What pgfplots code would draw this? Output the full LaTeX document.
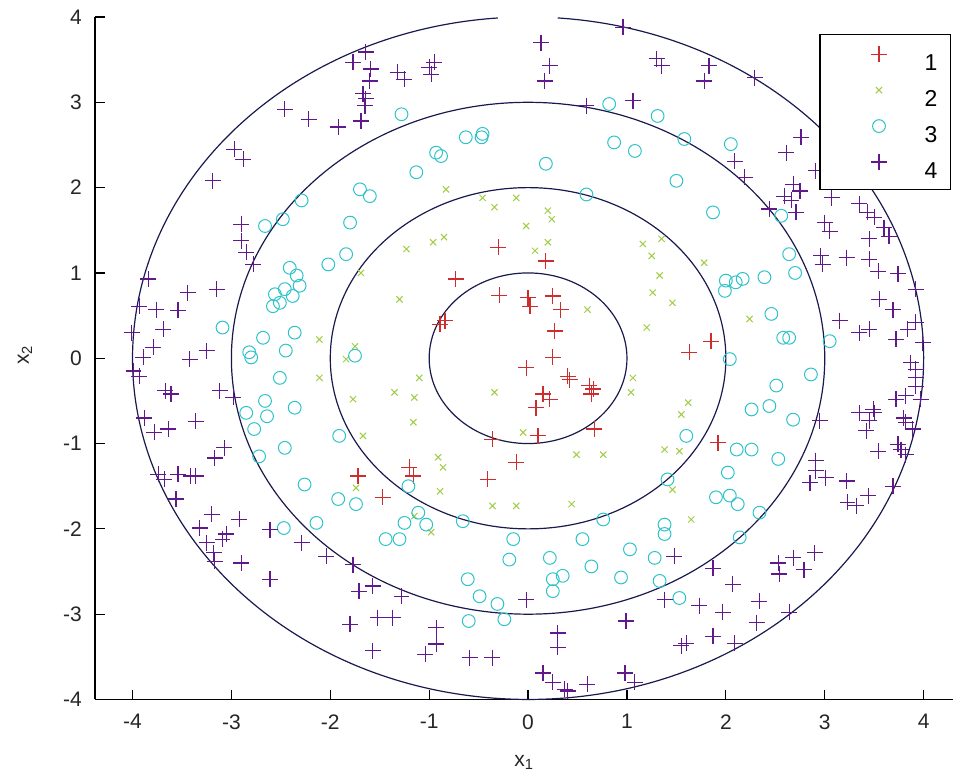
\documentclass[border=0pt]{standalone}
\usepackage{fontspec}
\setmainfont{Liberation Sans}
\usepackage{pgfplots}
\pgfplotsset{compat=1.18}
\definecolor{c1}{RGB}{205,45,45}
\definecolor{c2}{RGB}{160,205,70}
\definecolor{c3}{RGB}{45,195,200}
\definecolor{c4}{RGB}{95,25,140}
\definecolor{ring}{RGB}{25,25,80}
\pgfplotsset{my legend/.style={legend image code/.code={\path[draw=none,fill=none] (0pt,0pt) rectangle (41.6pt,8pt); \draw[mark repeat=2,mark phase=2,##1] plot coordinates {(0pt,4pt)(22.8pt,4pt)(45.6pt,4pt)};}}}
\begin{document}
\begin{tikzpicture}
\begin{axis}[
 scale only axis, width=429.5pt, height=341.5pt,
 xmin=-4.38, xmax=4.30, ymin=-4, ymax=4,
 axis x line*=bottom, axis y line*=left,
 tick align=inside, major tick length=5pt,
 xtick={-4,...,4}, ytick={-4,...,4},
 every tick/.style={black, line width=0.6pt},
 axis line style={line width=0.7pt},
 /pgf/number format/assume math mode=true,
 tick label style={font=\fontsize{10.5}{12}\selectfont, text=black!85},
 xticklabel style={yshift=-4pt},
 yticklabel style={xshift=-3pt},
 xlabel={x\textsubscript{1}}, ylabel={x\textsubscript{2}},
 label style={font=\fontsize{10.5}{12}\selectfont, text=black!85},
 xlabel style={at={(axis description cs:0.5,-0.0922)}, anchor=center},
 ylabel style={at={(axis description cs:-0.0815,0.505)}, anchor=center},
 clip=false,
 legend style={at={(0.9977,0.975)}, anchor=north east, draw=black, line width=0.6pt,
   font=\fontsize{11.5}{13}\selectfont, inner xsep=6.7pt, inner ysep=5.75pt,
   row sep=6pt, column sep=4pt, nodes={inner sep=0pt, text height=8pt, text depth=0pt}},
 legend cell align=left,
]
\draw[ring, line width=0.6pt] (axis cs:0,0) ellipse [x radius=1, y radius=1];
\draw[ring, line width=0.6pt] (axis cs:0,0) ellipse [x radius=2, y radius=2];
\draw[ring, line width=0.6pt] (axis cs:0,0) ellipse [x radius=3, y radius=3];
\draw[ring, line width=0.6pt] (axis cs:0.30,3.989) arc [start angle=85.7, delta angle=-351.3, x radius=4, y radius=4];

\addplot[only marks, mark=+, mark size=4pt, c1, mark options={line width=0.6pt}, my legend] coordinates {
(-0.30,1.30) (0.18,1.14) (-0.73,0.93) (-0.29,0.74) (0.00,0.71) (0.02,0.61) (0.25,0.73) (0.33,0.57)
(0.27,0.32) (0.25,0.01) (-0.02,-0.11) (0.40,-0.21) (0.62,-0.32) (-0.89,0.40) (-0.84,0.44) (1.85,0.20)
(1.63,0.07) (-1.72,-1.38) (-1.47,-1.63) (0.15,-0.42) (0.22,-0.48) (0.08,-0.58) (0.66,-0.36) (0.64,-0.42)
(0.42,-0.25) (-0.36,-0.95) (0.10,-0.91) (0.67,-0.83) (-0.12,-1.22) (-0.41,-1.42) (-1.20,-1.28) (-1.16,-1.38)
(1.92,-0.99)
};
\addlegendentry{1}
\addplot[only marks, mark=x, mark size=2.2pt, c2, mark options={line width=0.5pt}, my legend] coordinates {
(-2.11,0.22) (-1.75,0.14) (-1.84,-0.01) (-2.11,-0.23) (-1.69,1.00) (-0.83,1.98) (-0.46,1.88) (-0.12,1.88)
(-0.34,1.77) (0.20,1.73) (0.24,1.63) (-0.02,1.55) (-0.96,1.36) (-0.85,1.42) (-1.23,1.28) (0.07,1.26)
(0.20,1.36) (1.16,1.34) (1.35,1.40) (1.25,1.20) (1.33,0.97) (1.26,0.77) (0.60,0.57) (1.20,0.36)
(-1.30,0.69) (-1.10,-0.23) (1.06,-0.23) (1.78,1.12) (1.46,0.65) (2.24,0.46) (-1.77,-0.48) (-1.67,-0.91)
(-1.74,-1.52) (-1.35,-0.40) (-1.15,-0.46) (-1.16,-0.75) (-0.34,-0.40) (1.04,-0.40) (-0.05,-0.87) (0.49,-1.13)
(0.76,-1.13) (1.38,-1.07) (-0.91,-1.16) (-0.86,-1.28) (-0.89,-1.56) (-0.36,-1.73) (-0.12,-1.73) (0.44,-1.71)
(-1.15,-1.85) (-0.98,-2.04) (1.62,-0.52) (1.55,-0.66) (1.53,-1.09) (1.46,-1.54) (1.65,-1.89)
};
\addlegendentry{2}
\addplot[only marks, mark=o, mark size=3.2pt, c3, mark options={line width=0.5pt}, my legend] coordinates {
(-1.70,1.98) (-1.60,1.90) (-2.29,1.85) (-2.48,1.63) (-2.66,1.55) (-1.80,1.59) (-1.84,1.22) (-2.02,1.10)
(-2.41,1.06) (-2.34,0.97) (-2.31,0.85) (-2.46,0.81) (-2.56,0.75) (-2.51,0.65) (-2.58,0.61) (-2.38,0.73)
(-3.09,0.36) (-2.68,0.24) (-2.36,0.30) (-2.82,0.07) (-2.80,0.01) (-2.45,0.09) (-1.75,0.03) (-2.51,-0.23)
(-1.28,2.86) (0.82,2.98) (1.31,2.84) (-0.63,2.59) (-0.47,2.59) (-0.46,2.63) (-0.93,2.41) (-0.88,2.37)
(-1.13,2.18) (0.18,2.28) (0.87,2.53) (1.08,2.43) (0.59,1.92)
(1.58,2.57) (2.05,2.51) (1.50,2.08) (1.87,1.71) (2.56,1.67) (2.64,1.22) (2.70,1.00) (2.00,0.91)
(2.17,0.93) (2.10,0.89) (1.99,0.79) (2.39,0.95) (2.46,0.52) (2.58,0.24) (2.64,0.24) (3.05,0.20)
(2.04,-0.01) (2.86,-0.19) (2.51,-0.32)
(-2.66,-0.50) (-2.85,-0.64) (-2.64,-0.68) (-2.36,-0.58) (-2.77,-0.83) (-1.91,-0.91) (-2.46,-1.05) (-2.72,-1.15)
(-2.26,-1.48) (-1.92,-1.65) (-1.74,-1.71) (-2.14,-1.93) (-2.47,-1.99) (-1.44,-2.12)
(-1.21,-1.50) (-1.11,-1.81) (-1.25,-1.93) (-1.03,-1.95) (-1.30,-2.12) (-0.66,-1.91) (-0.15,-2.12) (-0.19,-2.36)
(0.22,-2.34) (0.25,-2.59) (0.35,-2.55) (0.25,-2.73) (0.55,-2.12) (0.64,-2.44) (0.76,-1.89) (1.03,-2.24)
(1.28,-2.34) (0.94,-2.57) (1.33,-2.61) (1.38,-1.95) (1.38,-2.06) (-0.61,-2.59) (-0.49,-2.79) (-0.31,-2.88)
(-0.24,-3.06) (-0.60,-3.08)
(2.44,-0.56) (2.26,-0.60) (2.68,-0.72) (1.60,-0.91) (2.11,-1.07) (2.26,-1.07) (2.53,-1.18) (2.02,-1.34)
(1.90,-1.63) (2.04,-1.61) (2.12,-1.71) (2.34,-1.81) (1.41,-1.42) (2.14,-2.10) (1.53,-2.81)
};
\addlegendentry{3}
\addplot[only marks, mark=+, mark size=4pt, c4, mark options={line width=0.6pt}, my legend] coordinates {
(-1.64,3.59) (-1.77,3.47) (-1.59,3.39) (-1.60,3.25) (-1.67,3.10) (-1.64,3.04) (-1.65,2.96) (-1.69,2.78)
(-1.92,2.71) (-2.22,2.80) (-2.46,2.92) (-2.97,2.45) (-2.88,2.33) (-3.19,2.08) (-2.90,1.57) (-2.90,1.38)
(-2.85,1.24) (-2.78,1.10) (-3.84,0.93) (-3.44,0.77) (-3.15,0.81) (-3.93,0.61) (-3.76,0.57) (-3.54,0.56)
(-3.69,0.34) (-4.01,0.30) (-3.79,0.13) (-3.89,0.01) (-3.42,-0.01) (-3.25,0.09) (-3.99,-0.15) (-3.93,-0.21)
(0.96,3.88) (0.13,3.70) (0.22,3.43) (0.17,3.25) (-1.32,3.35) (-1.25,3.27) (-1.00,3.41) (-0.98,3.33)
(-0.95,3.47) (1.30,3.51) (1.35,3.43) (1.06,3.02) (0.59,2.96)
(1.83,3.43) (1.78,3.25) (2.29,3.29) (2.76,2.59) (2.61,2.41) (2.09,2.31) (2.19,2.12) (2.68,2.04)
(2.59,1.90) (2.75,1.96) (2.66,1.85) (2.71,1.71) (2.44,1.75) (3.07,1.88) (3.35,1.81) (3.43,1.71)
(3.50,1.65) (3.60,1.53) (3.65,1.43) (3.00,1.59) (3.05,1.49) (3.45,1.40) (2.96,1.20) (2.98,1.10)
(3.22,1.18) (3.45,1.16) (3.54,1.02) (3.74,0.99) (3.92,0.81) (3.55,0.69) (3.69,0.57) (3.15,0.44)
(3.35,0.30) (3.45,0.34) (3.72,0.22) (3.84,0.34) (3.92,0.42) (3.99,0.18) (3.87,-0.05) (3.92,-0.13)
(3.92,-0.23) (2.91,2.20)
(-3.67,-0.38) (-3.61,-0.42) (-3.12,-0.38) (-2.98,-0.46) (-3.88,-0.70) (-3.36,-0.74) (-3.78,-0.87) (-3.64,-0.83)
(-3.07,-1.05) (-3.17,-1.17) (-3.74,-1.36) (-3.68,-1.42) (-3.54,-1.36) (-3.41,-1.38) (-3.36,-1.38) (-3.56,-1.65)
(-3.20,-1.83) (-2.92,-1.89) (-3.32,-1.99) (-3.05,-2.06) (-3.09,-2.12) (-3.25,-2.16) (-3.18,-2.28) (-3.17,-2.38)
(-2.90,-2.40) (-2.61,-2.01) (-2.61,-2.59) (-2.29,-2.16) (-2.04,-2.32) (-1.77,-2.42) (-1.71,-2.73) (-1.57,-2.67)
(-1.80,-3.12) (-1.52,-3.04) (-1.57,-3.43)
(-1.28,-2.79) (-1.37,-3.04) (-0.93,-3.16) (-0.93,-3.35) (-1.04,-3.47) (-0.59,-3.51) (-0.36,-3.51) (-0.02,-2.83)
(0.30,-3.22) (0.30,-3.39) (0.15,-3.69) (0.25,-3.80) (0.37,-3.88) (0.40,-3.90) (0.60,-3.82) (0.99,-3.08)
(0.98,-3.69) (1.08,-3.80) (1.38,-2.83)
(2.95,-0.73) (3.35,-0.64) (3.49,-0.60) (3.50,-0.64) (3.45,-0.73) (3.42,-0.85) (3.54,-1.09) (3.72,-0.48)
(3.82,-0.44) (3.92,-0.33) (3.97,-0.48) (3.80,-0.70) (3.82,-0.75) (3.89,-0.83) (3.74,-1.01) (3.77,-1.07)
(3.82,-1.13) (2.91,-1.20) (2.91,-1.32) (2.85,-1.46) (3.01,-1.40) (3.22,-1.44) (3.23,-1.69) (3.32,-1.73)
(3.44,-1.61) (3.69,-1.50) (1.48,-2.32) (1.87,-2.46) (2.07,-2.65) (2.53,-2.40) (2.54,-2.53) (2.68,-2.34)
(2.79,-2.48) (2.90,-2.28) (1.73,-2.90) (1.97,-2.98) (2.34,-2.85) (2.31,-3.10) (2.64,-2.98) (1.55,-3.37)
(1.60,-3.34) (1.87,-3.26) (2.09,-3.34)
};
\addlegendentry{4}
\end{axis}
\path[use as bounding box] (-47.5pt,-41pt) rectangle (429.5pt,350pt);
\end{tikzpicture}
\end{document}
